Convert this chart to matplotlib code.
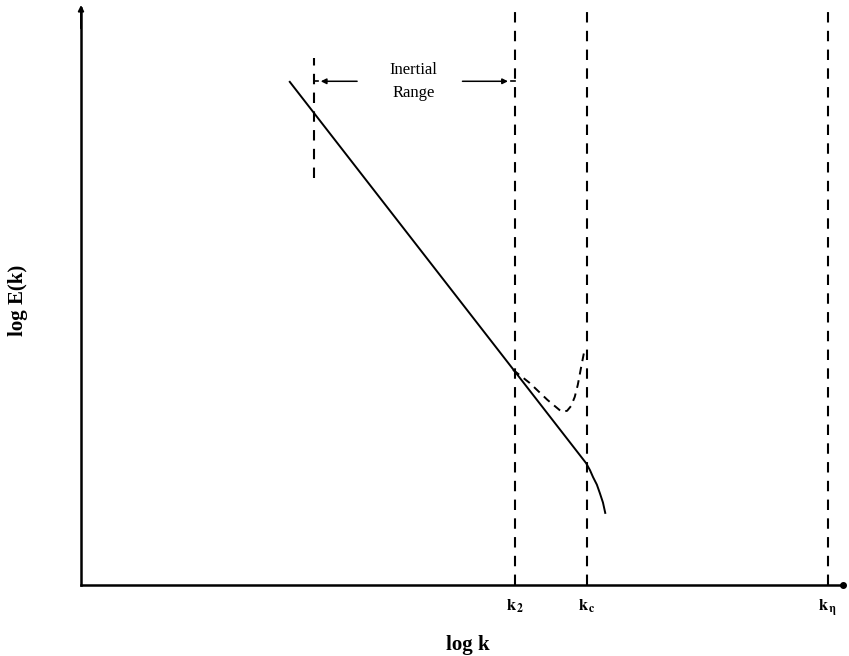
import matplotlib
matplotlib.use('Agg')
import matplotlib.pyplot as plt

plt.rcParams['font.family'] = 'Liberation Serif'
plt.rcParams['mathtext.fontset'] = 'stix'

## wavenumber markers (log k)
k_marks = [5.70, 6.64, 9.80]
k_labels = [r'$\mathbf{k_{\,2}}$', r'$\mathbf{k_{\,c}}$', r'$\mathbf{k_{\,\eta}}$']
k_start = 3.06   # start of inertial range

## resolved spectrum (solid)
spec_x = [2.74, 6.63, 6.68, 6.72, 6.77, 6.81, 6.85, 6.88]
spec_y = [8.72, 2.11, 1.99, 1.87, 1.74, 1.59, 1.43, 1.25]

## spectrum with pile-up (dashed)
pile_x = [5.67, 5.89, 6.12, 6.31, 6.38, 6.43, 6.48, 6.52, 6.56, 6.60]
pile_y = [3.73, 3.50, 3.21, 3.00, 3.02, 3.10, 3.26, 3.47, 3.75, 4.02]

fig = plt.figure(figsize=(8.49, 6.56), dpi=100)
ax = fig.add_axes([0.0954, 0.1082, 0.8975, 0.8796])
ax.set_xlim(0, 10)
ax.set_ylim(0, 10)

## axes: only left and bottom
for s in ['top', 'right']:
    ax.spines[s].set_visible(False)
for s in ['left', 'bottom']:
    ax.spines[s].set_linewidth(1.8)
ax.set_yticks([])
ax.set_xticks(k_marks)
ax.set_xticklabels(k_labels, fontsize=12)
ax.tick_params(axis='x', length=0, pad=9)

## arrow heads at the axis ends
ax.plot([10.0], [0], marker='o', ms=4, color='black', clip_on=False)
ax.annotate('', xy=(0, 10.1), xytext=(0, 9.6),
            arrowprops=dict(arrowstyle='-|>', color='black', lw=1.4,
                            mutation_scale=8), annotation_clip=False)

## vertical dashed lines
dash = dict(color='black', lw=1.5, linestyle=(0, (5, 4)))
for k in k_marks:
    ax.plot([k, k], [0, 9.95], **dash)
ax.plot([k_start, k_start], [7.05, 9.13], **dash)

## spectra
ax.plot(spec_x, spec_y, color='black', lw=1.4)
ax.plot(pile_x, pile_y, color='black', lw=1.4, linestyle=(0, (4, 3)))

## inertial range annotation
ya = 8.73
ax.plot([k_start, k_start + 0.05], [ya, ya], color='black', lw=1.2)
ax.annotate('', xy=(k_start + 0.05, ya), xytext=(3.66, ya),
            arrowprops=dict(arrowstyle='-|>', color='black', lw=1.1,
                            mutation_scale=8))
ax.annotate('', xy=(k_marks[0] - 0.06, ya), xytext=(4.97, ya),
            arrowprops=dict(arrowstyle='-|>', color='black', lw=1.1,
                            mutation_scale=8))
ax.plot([k_marks[0] - 0.06, k_marks[0]], [ya, ya], color='black', lw=1.2)
ax.text(4.36, 8.93, 'Inertial', ha='center', va='center', fontsize=12)
ax.text(4.36, 8.52, 'Range', ha='center', va='center', fontsize=12)

## axis titles
fig.text(468 / 849, 1 - 645 / 656, 'log k', ha='center', va='center',
         fontsize=15, fontweight='bold')
fig.text(18 / 849, 1 - 300 / 656, 'log E(k)', ha='center', va='center',
         fontsize=15, fontweight='bold', rotation=90)

fig.savefig('out.png', dpi=100)
